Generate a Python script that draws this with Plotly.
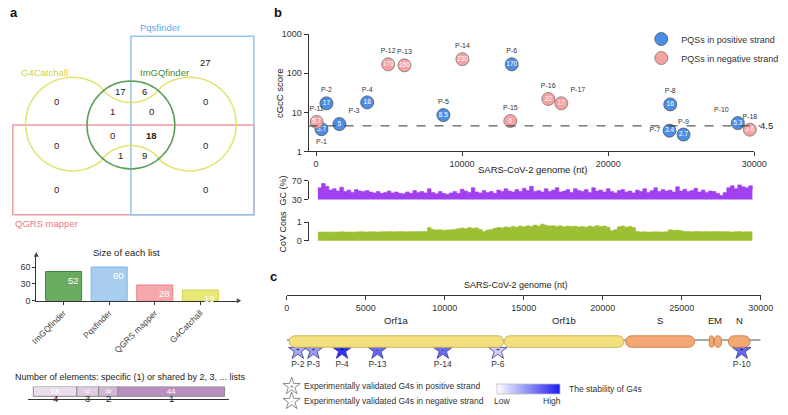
import math
import plotly.graph_objects as go

W, H = 788, 415
FONT = "Liberation Sans, Arial, sans-serif"

# ---------------- data ----------------
venn_counts = [27, 17, 6, 0, 0, 1, 0, 0, 18, 0, 0, 1, 9, 0, 0]

list_names = ["ImGQfinder", "Pqsfinder", "QGRS mapper", "G4Catchall"]
list_sizes = [52, 60, 28, 19]

shared_by = ["4", "3", "2", "1"]
shared_counts = [18, 9, 8, 44]

pos_names = ["P-1", "P-2", "P-3", "P-4", "P-5", "P-6", "P-7", "P-8", "P-9", "P-10"]
pos_loc = [374, 710, 1600, 3500, 8720, 13400, 24200, 24250, 25160, 28880]
pos_score = [3.7, 17, 5, 18, 8.5, 170, 3.4, 16, 2.7, 5.3]

neg_names = ["P-11", "P-12", "P-13", "P-14", "P-15", "P-16", "P-17", "P-18"]
neg_loc = [40, 4940, 6050, 10020, 13300, 15900, 16790, 29700]
neg_score = [5.7, 170, 160, 230, 6, 22, 17, 3.6]

threshold = 4.5

window_mid = list(range(125, 30000, 250))
gc_pct = [55, 64, 58, 50, 53, 48, 56, 47, 50, 45, 51, 48,
          47, 49, 46, 44, 47, 43, 45, 48, 44, 46, 43, 42,
          46, 43, 49, 45, 47, 44, 53, 45, 42, 47, 43, 41,
          44, 47, 43, 52, 48, 45, 55, 46, 44, 49, 45, 47,
          43, 50, 47, 53, 48, 46, 51, 47, 54, 49, 58, 47,
          49, 46, 53, 47, 50, 55, 46, 48, 51, 45, 53, 49,
          47, 51, 45, 55, 48, 50, 46, 53, 47, 44, 49, 51,
          46, 48, 44, 50, 47, 53, 45, 49, 55, 47, 51, 48,
          50, 46, 57, 48, 52, 47, 49, 54, 46, 50, 45, 48,
          47, 43, 39, 45, 55, 59, 53, 61, 57, 55, 59, 51]
cov_cons = [0.47, 0.48, 0.48, 0.47, 0.48, 0.48, 0.49, 0.48, 0.48, 0.47,
            0.48, 0.49, 0.49, 0.48, 0.49, 0.49, 0.48, 0.49, 0.49, 0.50,
            0.49, 0.49, 0.50, 0.49, 0.49, 0.50, 0.49, 0.50, 0.50, 0.50,
            0.72, 0.62, 0.58, 0.60, 0.57, 0.59,
            0.60, 0.62, 0.65, 0.70, 0.66, 0.72, 0.68, 0.70,
            0.62, 0.50, 0.58, 0.62,
            0.68, 0.72, 0.70, 0.75, 0.72, 0.78, 0.74, 0.80, 0.76, 0.82, 0.78, 0.85,
            0.80, 0.90, 0.84, 0.80, 0.82, 0.78, 0.81, 0.76, 0.80, 0.77, 0.79, 0.75,
            0.78, 0.74, 0.80, 0.76, 0.82, 0.77, 0.80, 0.74,
            0.55, 0.60, 0.76, 0.80, 0.74, 0.78, 0.72,
            0.50, 0.48, 0.49, 0.48, 0.48, 0.49, 0.48, 0.48, 0.49,
            0.60, 0.57, 0.58, 0.55,
            0.50, 0.50, 0.49, 0.50, 0.50, 0.49, 0.50, 0.49, 0.50, 0.50,
            0.49, 0.50, 0.49, 0.48, 0.49, 0.50, 0.48, 0.49, 0.49, 0.48]

gene_names = ["Orf1a", "Orf1b", "S", "E", "M", "N"]
gene_start = [150, 13760, 21450, 26750, 27080, 27950]
gene_end = [13730, 21340, 25820, 27020, 27510, 29330]
gene_fill = ["#f3df7e", "#f3df7e", "#f3a874", "#f3a874", "#f3a874", "#f3a874"]
gene_line = ["#c9b553", "#c9b553", "#cf8450", "#cf8450", "#cf8450", "#cf8450"]

g4_names = ["P-2", "P-3", "P-4", "P-13", "P-14", "P-6", "P-10"]
g4_loc = [700, 1690, 3500, 5740, 9880, 13360, 28800]
g4_strand = ["+", "+", "+", "-", "-", "+", "+"]
g4_stability = [0.38, 0.44, 0.9, 0.67, 0.65, 0.2, 0.66]

legend_c_text = ["Experimentally validated G4s in positive strand",
                 "Experimentally validated G4s in negative strand"]
legend_c_sign = ["+", "-"]


# ---------------- helpers ----------------
def X(px):
    return px / W


def Y(py):
    return 1 - py / H


annotations = []


def ann(text, x, y, size=9, color="#222", xanchor="center", yanchor="middle",
        bold=False, angle=0, xref="paper", yref="paper", px=True):
    if bold:
        text = "<b>" + text + "</b>"
    annotations.append(dict(
        text=text, x=X(x) if (px and xref == "paper") else x,
        y=Y(y) if (px and yref == "paper") else y,
        xref=xref, yref=yref, showarrow=False, xanchor=xanchor, yanchor=yanchor,
        textangle=angle, font=dict(size=size, color=color, family=FONT)))


shapes = []


def circle_intersections(c1, r1, c2, r2):
    (x1, y1), (x2, y2) = c1, c2
    d = math.hypot(x2 - x1, y2 - y1)
    a = (r1 * r1 - r2 * r2 + d * d) / (2 * d)
    h = math.sqrt(max(r1 * r1 - a * a, 0))
    xm = x1 + a * (x2 - x1) / d
    ym = y1 + a * (y2 - y1) / d
    return [(xm + h * (y2 - y1) / d, ym - h * (x2 - x1) / d),
            (xm - h * (y2 - y1) / d, ym + h * (x2 - x1) / d)]


def arc(c, r, a0, a1, n=40):
    return [(c[0] + r * math.cos(a0 + (a1 - a0) * i / n),
             c[1] + r * math.sin(a0 + (a1 - a0) * i / n)) for i in range(n + 1)]


def ang(p, c):
    return math.atan2(p[1] - c[1], p[0] - c[0])


# ---------------- Venn (panel a) ----------------
Lc, Rc, Uc, Dc = (68, 122), (188, 122), (128, 62), (128, 182)
rLR, rUD = 48, 38
P_LU = min(circle_intersections(Lc, rLR, Uc, rUD), key=lambda p: p[0])
P_LD = min(circle_intersections(Lc, rLR, Dc, rUD), key=lambda p: p[0])
P_RU = max(circle_intersections(Rc, rLR, Uc, rUD), key=lambda p: p[0])
P_RD = max(circle_intersections(Rc, rLR, Dc, rUD), key=lambda p: p[0])
pts = []
pts += arc(Lc, rLR, ang(P_LU, Lc), ang(P_LD, Lc) - 2 * math.pi)
pts += arc(Dc, rUD, ang(P_LD, Dc), ang(P_RD, Dc))
pts += arc(Rc, rLR, ang(P_RD, Rc), ang(P_RU, Rc))
pts += arc(Uc, rUD, ang(P_RU, Uc), ang(P_LU, Uc))
path = "M " + " L ".join(f"{X(px):.5f},{Y(py):.5f}" for px, py in pts) + " Z"

shapes.append(dict(type="rect", xref="paper", yref="paper", x0=X(7), x1=X(254),
                   y0=Y(215), y1=Y(123), line=dict(color="#f29aa2", width=1.5)))
shapes.append(dict(type="rect", xref="paper", yref="paper", x0=X(128), x1=X(254),
                   y0=Y(215), y1=Y(32), line=dict(color="#94c4ec", width=1.5)))
shapes.append(dict(type="path", xref="paper", yref="paper", path=path,
                   line=dict(color="#e3e36e", width=1.5)))
shapes.append(dict(type="circle", xref="paper", yref="paper", x0=X(83), x1=X(173),
                   y0=Y(168), y1=Y(78), line=dict(color="#5a9e55", width=1.5)))

venn_pos = [(204, 59), (117, 89), (142, 89), (52, 99), (204, 99), (109, 109), (149, 109),
            (109, 134), (149, 134), (52, 144), (204, 144), (117, 154), (142, 154),
            (52, 189), (204, 189)]
venn_bold = max(venn_counts[1:])
for i, (v, (px, py)) in enumerate(zip(venn_counts, venn_pos)):
    ann(str(v), px, py, size=9.5, bold=(i > 0 and v == venn_bold))

ann("Pqsfinder", 135, 23, size=9.5, color="#5aa7e6", xanchor="left")
ann("G4Catchall", 13, 69, size=9.5, color="#d2d24a", xanchor="left")
ann("ImGQfinder", 135, 69, size=9.5, color="#3d8b3d", xanchor="left")
ann("QGRS mapper", 7, 224, size=9.5, color="#f07782", xanchor="left")
ann("a", 2, 8, size=13, bold=True, xanchor="left", color="#111")
ann("b", 273, 8, size=13, bold=True, xanchor="left", color="#111")
ann("c", 268, 278, size=13, bold=True, xanchor="left", color="#111")

fig = go.Figure()

# ---------------- bar chart: size of each list ----------------
bar_fill = ["#6aab62", "#a9cdef", "#f5a9ad", "#e8e877"]
bar_line = ["#3f8a3f", "#7fb3e6", "#ef7f88", "#d2d24e"]
fig.add_trace(go.Bar(x=list_names, y=list_sizes, width=0.79,
                     marker=dict(color=bar_fill, line=dict(color=bar_line, width=1)),
                     xaxis="x", yaxis="y", showlegend=False, hoverinfo="skip"))
for name, v in zip(list_names, list_sizes):
    annotations.append(dict(text=str(v), x=name, y=v, xref="x", yref="y", showarrow=False,
                            xanchor="right", yanchor="top", xshift=17, yshift=-1,
                            font=dict(size=9.5, color="white", family=FONT)))
ann("Size of each list", 123, 254, size=9.5)
shapes.append(dict(type="path", xref="paper", yref="paper",
                   path=f"M {X(236.5)},{Y(300.5)} L {X(241)},{Y(303)} L {X(236.5)},{Y(305.5)} Z",
                   fillcolor="#444", line=dict(width=0)))
shapes.append(dict(type="path", xref="paper", yref="paper",
                   path=f"M {X(28.5)},{Y(258)} L {X(31)},{Y(253)} L {X(33.5)},{Y(258)} Z",
                   fillcolor="#444", line=dict(width=0)))

# ---------------- stacked strip ----------------
strip_cols = ["#ebdded", "#e0cbe3", "#d3b6d7", "#b98fc0"]
base = 0
for lab, c, col in zip(shared_by, shared_counts, strip_cols):
    fig.add_trace(go.Bar(x=[c], y=[0], base=[base], orientation="h", width=1,
                         marker=dict(color=col, line=dict(color="#8a8a8a", width=1)),
                         text=[str(c)], textposition="inside", insidetextanchor="middle",
                         constraintext="none",
                         textfont=dict(size=8, color="white", family=FONT),
                         xaxis="x2", yaxis="y2", showlegend=False, hoverinfo="skip"))
    annotations.append(dict(text=lab, x=base + c / 2, y=Y(411), xref="x2", yref="paper",
                            showarrow=False, font=dict(size=9.5, color="#222", family=FONT)))
    base += c
ann("Number of elements: specific (1) or shared by 2, 3, ... lists", 128, 381, size=9)

# ---------------- scatter (panel b) ----------------
def fmt(v):
    return f"{v:g}"


fig.add_trace(go.Scatter(x=pos_loc, y=pos_score, mode="markers+text",
                         text=[fmt(v) for v in pos_score], textposition="middle center",
                         textfont=dict(size=6.5, color="white", family=FONT),
                         marker=dict(size=13, color="#4a8fe7", line=dict(color="#555", width=0.8)),
                         name="PQSs in positive strand", xaxis="x3", yaxis="y3",
                         cliponaxis=False, hoverinfo="skip"))
fig.add_trace(go.Scatter(x=neg_loc, y=neg_score, mode="markers+text",
                         text=[fmt(v) for v in neg_score], textposition="middle center",
                         textfont=dict(size=6.5, color="white", family=FONT),
                         marker=dict(size=13, color="#f4a2a2", line=dict(color="#777", width=0.8)),
                         name="PQSs in negative strand", xaxis="x3", yaxis="y3",
                         cliponaxis=False, hoverinfo="skip"))
pos_lab_pos = ["bottom center", "top center", "top right", "top center", "top center",
               "top center", "middle left", "top center", "top center", "top left"]
neg_lab_pos = ["top center", "top center", "top center", "top center", "top center",
               "top center", "top right", "top center"]
fig.add_trace(go.Scatter(x=pos_loc, y=pos_score, mode="markers+text", text=pos_names,
                         marker=dict(size=13, opacity=0),
                         textposition=pos_lab_pos, textfont=dict(size=7, color="#333", family=FONT),
                         xaxis="x3", yaxis="y3", showlegend=False, cliponaxis=False, hoverinfo="skip"))
fig.add_trace(go.Scatter(x=neg_loc, y=neg_score, mode="markers+text", text=neg_names,
                         marker=dict(size=13, opacity=0),
                         textposition=neg_lab_pos, textfont=dict(size=7, color="#333", family=FONT),
                         xaxis="x3", yaxis="y3", showlegend=False, cliponaxis=False, hoverinfo="skip"))
shapes.append(dict(type="line", xref="paper", yref="y3", x0=X(310), x1=X(773),
                   y0=threshold, y1=threshold, line=dict(color="#333", width=1, dash="dash")))
ann(fmt(threshold), X(788), math.log10(threshold), size=9.5, xanchor="right",
    yref="y3", px=False)
ann("cGcC score", 281, 90, size=9.5, angle=-90)
ann("SARS-CoV-2 genome (nt)", 540, 169, size=9.5)

# ---------------- GC and conservation ----------------
fig.add_trace(go.Scatter(x=window_mid, y=gc_pct, mode="lines", line=dict(shape="hv", width=0.6, color="#a040f0"),
                         fill="tozeroy", fillcolor="#a040f0", xaxis="x4", yaxis="y4",
                         showlegend=False, hoverinfo="skip"))
fig.add_trace(go.Scatter(x=window_mid, y=cov_cons, mode="lines", line=dict(shape="hv", width=0.6, color="#9cbf34"),
                         fill="tozeroy", fillcolor="#9cbf34", xaxis="x5", yaxis="y5",
                         showlegend=False, hoverinfo="skip"))
ann("GC (%)", 284, 190, size=9, angle=-90)
ann("CoV Cons", 284, 232, size=9, angle=-90)

# ---------------- genome map (panel c) ----------------
fig.add_trace(go.Scatter(x=[0], y=[0], mode="markers", marker=dict(opacity=0),
                         xaxis="x6", yaxis="y6", showlegend=False, hoverinfo="skip"))
ann("SARS-CoV-2 genome (nt)", 523, 287, size=9)
PXNT = (773.3 - 287.7) / 30000.0
shapes.append(dict(type="line", xref="x6", yref="paper", x0=0, x1=30000,
                   y0=Y(343.3), y1=Y(343.3), line=dict(color="#555", width=1)))
gy0, gy1 = 339.0, 350.7
for name, s, e, fc, lc in zip(gene_names, gene_start, gene_end, gene_fill, gene_line):
    rpx = min((gy1 - gy0) / 2, (e - s) * PXNT / 2)
    rx = rpx / PXNT
    ry = rpx / H
    k = 0.5523
    yt, yb = Y(gy0), Y(gy1)
    p = (f"M {s + rx},{yt} L {e - rx},{yt} "
         f"C {e - rx + k * rx},{yt} {e},{yt - ry + k * ry} {e},{yt - ry} "
         f"L {e},{yb + ry} "
         f"C {e},{yb + ry - k * ry} {e - rx + k * rx},{yb} {e - rx},{yb} "
         f"L {s + rx},{yb} "
         f"C {s + rx - k * rx},{yb} {s},{yb + ry - k * ry} {s},{yb + ry} "
         f"L {s},{yt - ry} "
         f"C {s},{yt - ry + k * ry} {s + rx - k * rx},{yt} {s + rx},{yt} Z")
    shapes.append(dict(type="path", xref="x6", yref="paper", path=p, fillcolor=fc,
                       line=dict(color=lc, width=1)))
    annotations.append(dict(text=name, x=(s + e) / 2, y=Y(331), xref="x6", yref="paper",
                            showarrow=False, font=dict(size=9.5, color="#222", family=FONT)))

STAR_Y = (375 - 354) / 40.0
fig.add_trace(go.Scatter(
    x=g4_loc, y=[STAR_Y] * len(g4_loc), mode="markers+text", text=g4_names,
    textposition="bottom center", textfont=dict(size=8.5, color="#333", family=FONT),
    marker=dict(symbol="star", size=14, color=g4_stability, cmin=0, cmax=1,
                colorscale=[[0, "#ffffff"], [1, "#1c1cf0"]],
                line=dict(color="#3a3a8a", width=0.8), showscale=True,
                colorbar=dict(orientation="h", x=X(502.7), xanchor="left", y=Y(388), yanchor="top",
                              len=63, lenmode="pixels", thickness=10, thicknessmode="pixels",
                              showticklabels=False, ticks="", outlinewidth=0.8,
                              outlinecolor="#bbb", xpad=0, ypad=0)),
    xaxis="x7", yaxis="y7", showlegend=False, cliponaxis=False, hoverinfo="skip"))
fig.add_trace(go.Scatter(x=g4_loc, y=[STAR_Y] * len(g4_loc), mode="text", text=g4_strand,
                         textposition="middle center", textfont=dict(size=6.5, color="#111", family=FONT),
                         xaxis="x7", yaxis="y7", showlegend=False, cliponaxis=False, hoverinfo="skip"))

# legend of panel c drawn on a pixel-coordinate overlay axis
leg_y = [390.7, 406]
fig.add_trace(go.Scatter(x=[292.7] * 2, y=leg_y, mode="markers+text", text=legend_c_sign,
                         textposition="middle center", textfont=dict(size=6, color="#555", family=FONT),
                         marker=dict(symbol="star", size=13, color="white", line=dict(color="#8a8a8a", width=1)),
                         xaxis="x8", yaxis="y8", showlegend=False, cliponaxis=False, hoverinfo="skip"))
for yy, txt in zip(leg_y, legend_c_text):
    ann(txt, 303, yy, size=8.5, color="#333", xanchor="left")
ann("Low", 508, 406, size=8.5, color="#333")
ann("High", 560, 406, size=8.5, color="#333")
ann("The stability of G4s", 575, 393, size=8.5, color="#333", xanchor="left")

# ---------------- layout ----------------
axis_common = dict(showgrid=False, zeroline=False, linecolor="#333", linewidth=1,
                   tickcolor="#333", tickfont=dict(size=9, color="#333", family=FONT))
axis_nofont = {k: v for k, v in axis_common.items() if k != "tickfont"}
xr3 = [-515, 30000]
layout = dict(
    width=W, height=H, margin=dict(l=0, r=0, t=0, b=0), autosize=False,
    paper_bgcolor="white", plot_bgcolor="rgba(0,0,0,0)", barmode="overlay",
    font=dict(family=FONT, color="#222"),
    showlegend=True,
    legend=dict(x=X(651), y=Y(20), xanchor="left", yanchor="top", bgcolor="rgba(0,0,0,0)",
                font=dict(size=9, color="#333", family=FONT), tracegroupgap=2),
    xaxis=dict(domain=[X(31), X(236.5)], range=[-0.6, 3.8], anchor="y", showline=True,
               ticks="outside", ticklen=3, tickangle=-45, **axis_nofont,
               tickfont=dict(size=8.5, color="#444", family=FONT)),
    yaxis=dict(domain=[Y(303), Y(257)], range=[0, 80], anchor="x", tickvals=[0, 30, 60],
               showline=True, ticks="outside", ticklen=3, **axis_common),
    xaxis2=dict(domain=[X(23), X(229)], range=[-2, 81], anchor="y2", showline=True, ticks="",
                showticklabels=False, **axis_nofont),
    yaxis2=dict(domain=[Y(404), Y(391)], range=[-0.8, 0.5], anchor="x2", visible=False),
    xaxis3=dict(domain=[X(310), X(766.7)], range=xr3, anchor="y3", showline=True,
                ticks="outside", ticklen=4, tickvals=[0, 10000, 20000, 30000],
                ticktext=["0", "10000", "20000", "30000"], **axis_common),
    yaxis3=dict(domain=[Y(150), Y(30)], type="log", range=[0, 3], anchor="x3", showline=True,
                ticks="outside", ticklen=4, tickvals=[1, 10, 100, 1000],
                ticktext=["1", "10", "100", "1000"], **axis_common),
    xaxis4=dict(domain=[X(310), X(766.7)], range=xr3, anchor="y4", visible=False),
    yaxis4=dict(domain=[Y(199.3), Y(180)], range=[30, 70], anchor="x4", showline=True,
                ticks="outside", ticklen=4, tickvals=[30, 70], **axis_common),
    xaxis5=dict(domain=[X(310), X(766.7)], range=xr3, anchor="y5", visible=False),
    yaxis5=dict(domain=[Y(241.7), Y(222.7)], range=[0, 1], anchor="x5", showline=True,
                ticks="outside", ticklen=4, tickvals=[0, 1], **axis_common),
    xaxis6=dict(domain=[X(287.7), X(773.3)], range=[0, 30000], anchor="y6", showline=True,
                ticks="outside", ticklen=4, tickvals=[0, 5000, 10000, 15000, 20000, 25000, 30000],
                ticktext=["0", "5000", "10000", "15000", "20000", "25000", "30000"], **axis_common),
    yaxis6=dict(domain=[Y(297.5), Y(296.5)], range=[0, 1], anchor="x6", visible=False),
    xaxis7=dict(domain=[X(287.7), X(773.3)], range=[0, 30000], anchor="y7", visible=False),
    yaxis7=dict(domain=[Y(375), Y(335)], range=[0, 1], anchor="x7", visible=False),
    xaxis8=dict(domain=[0, 1], range=[0, W], anchor="y8", visible=False),
    yaxis8=dict(domain=[0, 1], range=[H, 0], anchor="x8", visible=False),
    shapes=shapes, annotations=annotations,
)
fig.update_layout(**layout)
fig.write_html("out.html", config={"displayModeBar": False},
               post_script="document.body.style.margin='0';"
                           "document.body.style.overflow='hidden';"
                           "document.documentElement.style.overflow='hidden';")
